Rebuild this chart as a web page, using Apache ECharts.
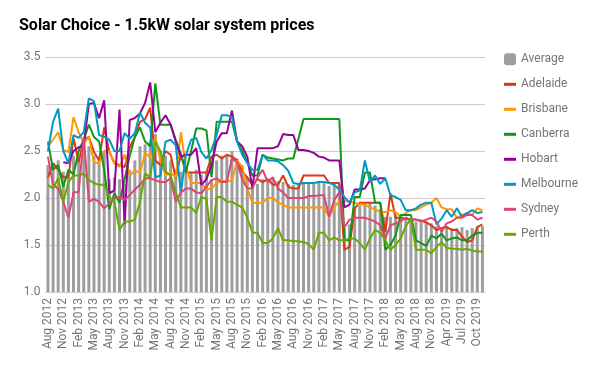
<!DOCTYPE html>
<html><head><meta charset="utf-8">
<script src="https://cdn.jsdelivr.net/npm/echarts@6/dist/echarts.min.js"></script>
<style>html,body{margin:0;padding:0;background:#fff}#c{width:600px;height:371px}</style>
</head><body><div id="c"></div>
<script>
const categories = [
'Aug 2012','Sep 2012','Oct 2012','Nov 2012','Dec 2012',
'Jan 2013','Feb 2013','Mar 2013','Apr 2013','May 2013','Jun 2013','Jul 2013','Aug 2013','Sep 2013','Oct 2013','Nov 2013','Dec 2013',
'Jan 2014','Feb 2014','Mar 2014','Apr 2014','May 2014','Jun 2014','Jul 2014','Aug 2014','Sep 2014','Oct 2014','Nov 2014','Dec 2014',
'Jan 2015','Feb 2015','Mar 2015','Apr 2015','May 2015','Jun 2015','Jul 2015','Aug 2015','Sep 2015','Oct 2015','Nov 2015','Dec 2015',
'Jan 2016','Feb 2016','Mar 2016','Apr 2016','May 2016','Jun 2016','Jul 2016','Aug 2016','Sep 2016','Oct 2016','Nov 2016','Dec 2016',
'Jan 2017','Feb 2017','Mar 2017','Apr 2017','May 2017','Jun 2017','Jul 2017','Aug 2017','Sep 2017','Oct 2017','Nov 2017','Dec 2017',
'Jan 2018','Feb 2018','Mar 2018','Apr 2018','May 2018','Jun 2018','Jul 2018','Aug 2018','Sep 2018','Oct 2018','Nov 2018','Dec 2018',
'Feb 2019','Apr 2019','May 2019','Jun 2019','Jul 2019','Aug 2019','Sep 2019','Oct 2019','Nov 2019'];

const average = [2.35,2.37,2.4,2.28,2.25, 2.45,2.42,2.55,2.55,2.45,2.42,2.5, 2.2,2.22,2.2,2.15,2.3, 2.4,2.55,2.57,2.6,2.68,2.5, 2.45,2.4,2.3,2.28,2.3,2.28,2.3, 2.25,2.28,2.2,2.4,2.45,2.45,2.5, 2.42,2.35,2.22,2.13,2.15,2.2,2.2,2.2,2.18,2.17,2.15, 2.14,2.15,2.15,2.17,2.17,2.17,2.17,2.13,2.14,2.15, 1.68,1.72, 1.9,1.92,1.95,1.95,1.92,1.88,1.8, 1.8,1.82,1.78,1.78,1.77,1.75,1.74,1.75, 1.73,1.7,1.68,1.7,1.68,1.68,1.69,1.66,1.68,1.7,1.7];

const adelaide = [2.22,2.37,2.3,2.22,2.22, 2.64,2.38,2.62,2.65,2.49,2.4,2.75, 2.49,2.37,2.35,2.33,2.54, 2.65,2.81,2.84,2.96,2.4,2.35, 2.5,2.46,2.21,2.46,2.27,2.27,2.27, 2.27,2.27,2.44,2.46,2.42,2.46,2.44, 2.4,2.28,2.22,2.14,2.2,2.17,2.2,2.14,2.14,2.24,2.12, 2.1,2.1,2.24,2.24,2.24,2.24,2.24,2.16,2.16,2.16, 1.45,1.48, 1.89,1.95,1.95,1.95,1.95,1.95,1.64, 2.05,1.79,1.79,1.78,1.77,1.77,1.76,1.74, 1.71,1.66,1.68,1.69,1.66,1.66,1.59,1.53,1.55,1.69,1.72];

const brisbane = [2.55,2.62,2.7,2.51,2.49, 2.86,2.7,2.58,2.65,2.38,2.37,2.5, 2.5,2.37,2.33,2.46,2.24, 2.29,2.27,2.48,2.43,2.65,2.4, 2.24,2.27,2.22,2.7,2.33,2.16,2.16, 2.16,2.09,2.1,2.16,2.18,2.18,2.18, 2.4,2.33,2.1,1.95,1.95,1.95,2.0,2.0,1.95,1.93,1.9, 1.9,1.9,1.9,1.9,1.9,1.9,1.9,1.8,1.9,1.97, 1.97,1.96, 1.95,1.93,1.93,1.9,1.88,1.85,1.85, 1.87,1.85,1.8,1.84,1.87,1.87,1.9,1.93, 1.95,2.0,1.9,1.88,1.88,1.79,1.82,1.84,1.82,1.89,1.87];

const canberra = [2.6,2.3,2.35,2.12,2.3, 2.25,2.5,2.62,2.78,2.65,2.6,2.3, 1.88,2.05,1.95,2.2,2.45, 2.65,2.75,2.6,2.55,3.22,2.78, 2.78,2.78,2.62,2.47,2.28,2.5,2.74, 2.74,2.72,2.22,2.81,2.81,2.81,2.81, 2.6,2.5,2.38,2.24,2.24,2.46,2.43,2.42,2.41,2.4,2.42, 2.42,2.63,2.84,2.84,2.84,2.84,2.84,2.84,2.84,2.84, 1.55,1.55, 2.01,2.01,2.27,2.27,1.95,1.95,1.45, 1.5,1.6,1.82,1.82,1.82,1.55,1.52,1.49, 1.6,1.57,1.62,1.55,1.57,1.58,1.55,1.55,1.6,1.63,1.63];

const hobart = [null,null,null,2.38,2.37, 2.5,2.54,2.56,3.0,3.01,2.85,3.04, 2.05,2.08,2.94,1.72,2.83, 2.85,2.9,3.01,3.23,2.7,2.8, 2.88,2.78,2.6,2.44,2.46,2.46,2.53, 2.14,2.2,2.35,2.6,2.69,2.69,2.93, 2.6,2.55,2.44,2.1,2.53,2.53,2.53,2.53,2.55,2.68,2.67, 2.67,2.51,2.51,2.5,2.48,2.44,2.43,2.4,2.4,2.4, 1.9,1.93, 2.09,2.09,2.1,2.19,2.2,2.21,2.21, null,null,null,null,null,null,null,null, null,null,null,null,null,null,null,null,null,null,null];

const melbourne = [2.5,2.81,2.95,2.5,2.37, 2.67,2.64,2.7,3.06,3.03,2.67,2.65, 2.62,2.5,2.5,2.69,2.63, 2.69,2.91,2.8,2.75,2.22,2.24, 2.6,2.62,2.56,2.06,2.46,2.62,2.64, 2.49,2.42,2.51,2.67,2.88,2.88,2.86, 2.6,2.46,2.37,2.3,2.3,2.46,2.4,2.4,2.39,2.35,2.29, 2.16,2.15,2.16,2.16,2.16,2.17,2.17,2.16,2.14,2.09, 2.01,1.95, 2.06,2.08,2.4,2.17,2.24,2.15,2.21, 2.03,2.01,1.98,1.87,1.87,1.89,1.93,1.95, 1.95,1.72,1.78,1.87,1.8,1.89,1.8,1.84,1.87,1.84,1.85];

const sydney = [2.44,2.14,2.1,1.96,1.79, 2.06,2.06,2.65,1.96,1.99,1.96,1.89, 1.94,2.0,2.01,1.98,2.03, 2.09,2.14,2.21,2.21,2.19,2.17, 2.17,2.21,1.96,2.06,2.1,2.1,2.06, 2.05,2.12,2.19,2.21,2.17,2.17,2.42, 2.38,2.2,2.1,2.1,2.22,2.3,2.17,2.22,2.1,2.06,2.0, 2.0,2.0,2.0,2.02,2.02,2.03,2.03,1.8,1.98,2.06, 1.69,1.77, 1.79,1.79,1.79,1.77,1.75,1.71,1.57, 1.71,1.73,1.75,1.79,1.77,1.77,1.75,1.77, 1.79,1.75,1.64,1.73,1.75,1.79,1.79,1.82,1.82,1.77,1.79];

const perth = [2.14,2.1,2.21,1.96,2.17, 2.24,2.24,2.26,2.19,2.16,2.14,2.14, 2.01,1.96,1.66,1.75,1.75, 1.77,1.96,2.26,2.22,2.6,2.5, 2.28,2.24,2.06,1.9,1.9,1.9,1.84, 2.01,1.99,1.55,2.01,2.01,1.96,1.96, 1.93,1.9,1.79,1.63,1.63,1.52,1.52,1.57,1.68,1.55,1.55, 1.54,1.54,1.53,1.51,1.45,1.63,1.63,1.55,1.58,1.55, 1.55,1.57, 1.57,1.52,1.45,1.57,1.66,1.63,1.55, 1.45,1.5,1.57,1.7,1.78,1.45,1.45,1.45, 1.41,1.48,1.53,1.47,1.46,1.46,1.45,1.46,1.44,1.43,1.43];

const cityNames = ['Adelaide','Brisbane','Canberra','Hobart','Melbourne','Sydney','Perth'];
const cityData = [adelaide, brisbane, canberra, hobart, melbourne, sydney, perth];
const cityColors = ['#dc3912','#ff9900','#109618','#990099','#0099c6','#dd4477','#66aa00'];

const chart = echarts.init(document.getElementById('c'), null, {renderer:'canvas'});
const FONT = 'Roboto';
const legendText = {fontFamily: FONT, fontSize: 12, lineHeight: 12, color: '#757575'};
const option = {
  animation: false,
  backgroundColor: '#ffffff',
  title: {
    text: 'Solar Choice - 1.5kW solar system prices',
    left: 19, top: 18, padding: 0,
    textStyle: {fontFamily: FONT, fontWeight: 'bold', fontSize: 16, color: '#000000'}
  },
  legend: [{
    orient: 'vertical', left: 504, top: 53.3, padding: 0,
    itemWidth: 12, itemHeight: 12, itemGap: 13,
    textStyle: legendText,
    data: [{name: 'Average', icon: 'roundRect'}]
  }, {
    orient: 'vertical', left: 504, top: 78.3, padding: 0,
    itemWidth: 12, itemHeight: 3, itemGap: 13, icon: 'rect',
    textStyle: legendText,
    data: cityNames
  }],
  grid: {left: 45.4, right: 115, top: 57, bottom: 79, containLabel: false},
  xAxis: {
    type: 'category', data: categories, boundaryGap: true,
    axisTick: {show: false},
    axisLine: {show: true, lineStyle: {color: '#cccccc', width: 1}},
    axisLabel: {rotate: 90, interval: 2, fontFamily: FONT, fontSize: 12, color: '#757575', margin: 6, hideOverlap: false}
  },
  yAxis: {
    type: 'value', min: 1, max: 3.5, interval: 0.5,
    axisLine: {show: false}, axisTick: {show: false},
    axisLabel: {formatter: v => v.toFixed(1), fontFamily: FONT, fontSize: 12, color: '#757575', margin: 5},
    splitLine: {lineStyle: {color: '#cccccc', width: 1}}
  },
  series: [{
    name: 'Average', type: 'bar', data: average, barWidth: 3,
    itemStyle: {color: '#9e9e9e'}
  }].concat(cityNames.map((n, k) => ({
    name: n, type: 'line', data: cityData[k], symbol: 'none', connectNulls: false,
    lineStyle: {color: cityColors[k], width: 2}, itemStyle: {color: cityColors[k]}
  })))
};
chart.setOption(option);
</script>
</body></html>
